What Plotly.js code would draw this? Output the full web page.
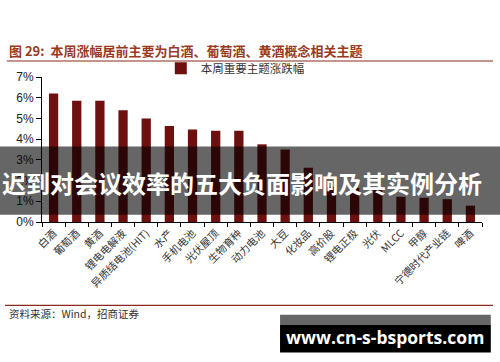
<!DOCTYPE html>
<html>
<head>
<meta charset="utf-8">
<script src="https://cdn.plot.ly/plotly-3.0.1.min.js"></script>
<style>html,body{margin:0;padding:0;background:#fff;}#chart{width:500px;height:362px;}</style>
</head>
<body>
<div id="chart"></div>
<script>
const categories = ["白酒","葡萄酒","黄酒","锂电电解液","异质结电池(HIT)","水产","手机电池","光伏屋顶","生物育种","动力电池","大豆","化妆品","高价股","锂电正极","光伏","MLCC","甲醇","宁德时代产业链","啤酒"];
const values = [6.2,5.85,5.85,5.4,5.0,4.64,4.46,4.41,4.4,3.75,3.5,2.62,1.7,1.65,1.62,1.22,1.17,1.1,0.79];
const yTickVals = [0,1,2,3,4,5,6,7];
const yTickText = ["0%","1%","2%","3%","4%","5%","6%","7%"];
const seriesName = "本周重要主题涨跌幅";
const chartTitle = "图 29:  本周涨幅居前主要为白酒、葡萄酒、黄酒概念相关主题";
const sourceText = "资料来源：Wind，招商证券";
const bannerText = "迟到对会议效率的五大负面影响及其实例分析";
const watermarkText = "www.cn-s-bsports.com";

const cjk = "'Noto Sans CJK SC', 'Noto Sans', sans-serif";
const barColor = "#6e0f10";

const trace = {
  type: "bar",
  x: categories,
  y: values,
  name: seriesName,
  marker: {color: barColor},
  width: 0.4,
  hoverinfo: "skip"
};

const layout = {
  width: 500,
  height: 362,
  margin: {l: 42, r: 18, t: 77, b: 140},
  paper_bgcolor: "#fff",
  plot_bgcolor: "#fff",
  showlegend: true,
  legend: {
    orientation: "h",
    x: 0.27, xanchor: "left",
    y: 1.06, yanchor: "middle",
    font: {family: cjk, size: 11.5, color: "#333"},
    bgcolor: "rgba(0,0,0,0)"
  },
  xaxis: {
    type: "category",
    showline: true, linecolor: "#000", linewidth: 1,
    ticks: "outside", ticklen: 4, tickcolor: "#000",
    tickson: "boundaries",
    tickangle: -45,
    tickfont: {family: cjk, size: 10.5, color: "#333"},
    showgrid: false, zeroline: false,
    fixedrange: true
  },
  yaxis: {
    range: [0, 7],
    tickvals: yTickVals,
    ticktext: yTickText,
    showline: true, linecolor: "#000", linewidth: 1,
    ticks: "outside", ticklen: 5, tickcolor: "#000",
    tickfont: {family: "'Liberation Sans', Arial, sans-serif", size: 12, color: "#222"},
    showgrid: false, zeroline: false,
    fixedrange: true
  },
  shapes: [
    {type: "line", xref: "paper", yref: "paper", x0: -0.08, x1: 1.025, y0: 1.11, y1: 1.11,
      line: {color: "#b0706a", width: 1.5}},
    {type: "line", xref: "paper", yref: "paper", x0: -0.084, x1: 1.025, y0: -0.575, y1: -0.575,
      line: {color: "#8a2a1e", width: 1.2}},
    {type: "rect", xref: "paper", yref: "paper", x0: -0.1, x1: 1.05, y0: 0.05, y1: 0.52,
      fillcolor: "rgba(0,0,0,0.6)", line: {width: 0}, layer: "above"},
    {type: "rect", xref: "paper", yref: "paper", x0: 0.541, x1: 1.02, y0: -0.64, y1: -0.71,
      fillcolor: "#666", line: {width: 0}, layer: "above"},
    {type: "rect", xref: "paper", yref: "paper", x0: 0.541, x1: 1.02, y0: -0.71, y1: -0.9,
      fillcolor: "#000", line: {width: 0}, layer: "above"}
  ],
  annotations: [
    {text: chartTitle, xref: "paper", yref: "paper", x: -0.08, y: 1.18, xanchor: "left", yanchor: "middle",
      showarrow: false, font: {family: cjk, size: 13, color: "#9a3a1c", weight: "bold"}},
    {text: sourceText, xref: "paper", yref: "paper", x: -0.08, y: -0.63, xanchor: "left", yanchor: "middle",
      showarrow: false, font: {family: cjk, size: 10.5, color: "#333"}},
    {text: bannerText, xref: "paper", yref: "paper", x: 0.4545, y: 0.27, xanchor: "center", yanchor: "middle",
      showarrow: false, font: {family: cjk, size: 24, color: "#fff", weight: "bold"}},
    {text: watermarkText, xref: "paper", yref: "paper", x: 0.78, y: -0.795, xanchor: "center", yanchor: "middle",
      showarrow: false, font: {family: "'Open Sans', sans-serif", size: 17.5, color: "#fff", weight: "bold"}}
  ]
};

Plotly.newPlot("chart", [trace], layout, {displayModeBar: false, staticPlot: true});
</script>
</body>
</html>
